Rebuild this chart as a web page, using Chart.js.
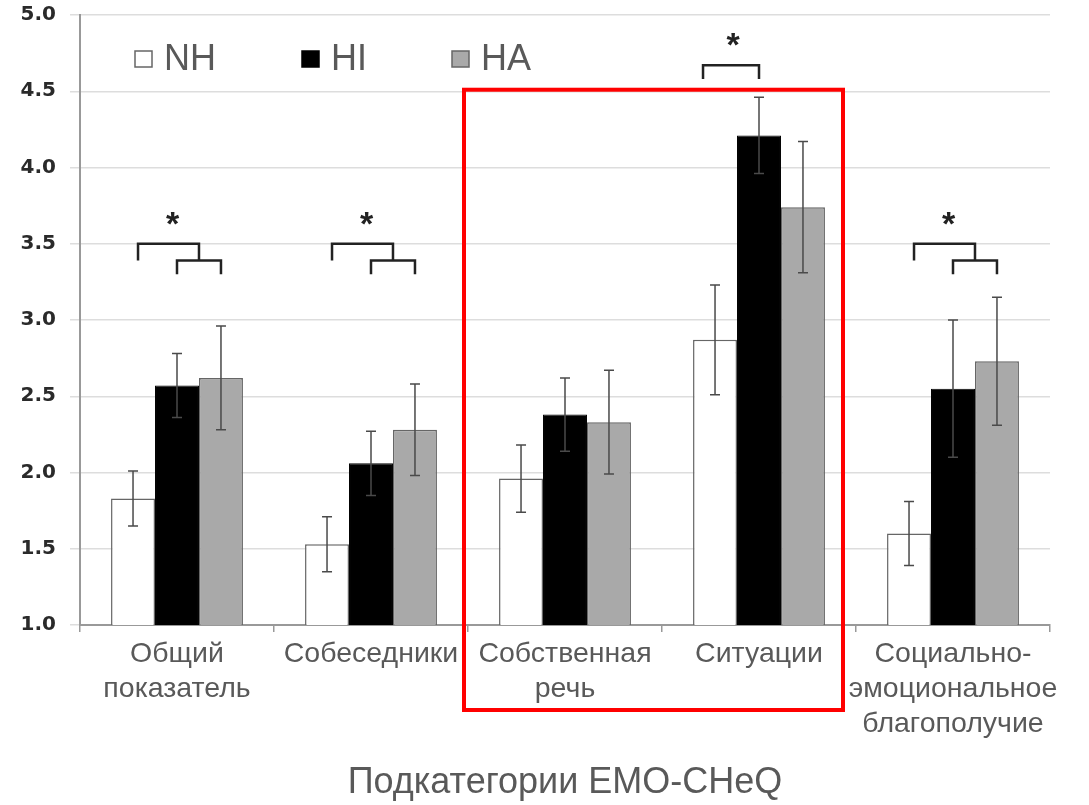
<!DOCTYPE html>
<html>
<head>
<meta charset="utf-8">
<script src="https://cdn.jsdelivr.net/npm/chart.js@4/dist/chart.umd.min.js"></script>
<style>
  body { margin: 0; background: #fff; }
  #wrap { width: 1089px; height: 805px; }
</style>
</head>
<body>
<div id="wrap"><canvas id="myChart" width="1089" height="805"></canvas></div>
<script>
const categories = [
  ['Общий', 'показатель'],
  'Собеседники',
  ['Собственная', 'речь'],
  'Ситуации',
  ['Социально-', 'эмоциональное', 'благополучие']
];
const seriesNames = ['NH', 'HI', 'HA'];
const nhValues = [1.83, 1.53, 1.96, 2.87, 1.60];
const nhErrors = [0.18, 0.18, 0.22, 0.36, 0.21];
const hiValues = [2.57, 2.06, 2.38, 4.21, 2.55];
const hiErrors = [0.21, 0.21, 0.24, 0.25, 0.45];
const haValues = [2.62, 2.28, 2.33, 3.74, 2.73];
const haErrors = [0.34, 0.30, 0.34, 0.43, 0.42];
const yTicks = [1.0, 1.5, 2.0, 2.5, 3.0, 3.5, 4.0, 4.5, 5.0];
const axisTitle = 'Подкатегории EMO-CHeQ';

// significance brackets (category indexes)
const doubleBrackets = [0, 1, 4];
const singleBrackets = [3];

const errorSets = [nhErrors, hiErrors, haErrors];

const errorBars = {
  id: 'errorBars',
  afterDatasetsDraw(chart) {
    const ctx = chart.ctx;
    const y = chart.scales.y;
    ctx.save();
    ctx.strokeStyle = '#4a4a4a';
    ctx.lineWidth = 1.5;
    chart.data.datasets.forEach((ds, i) => {
      const meta = chart.getDatasetMeta(i);
      meta.data.forEach((bar, j) => {
        const v = ds.data[j], e = errorSets[i][j];
        const top = y.getPixelForValue(v + e);
        const bot = y.getPixelForValue(v - e);
        ctx.beginPath();
        ctx.moveTo(bar.x, top); ctx.lineTo(bar.x, bot);
        ctx.moveTo(bar.x - 5, top); ctx.lineTo(bar.x + 5, top);
        ctx.moveTo(bar.x - 5, bot); ctx.lineTo(bar.x + 5, bot);
        ctx.stroke();
      });
    });
    ctx.restore();
  }
};

const extras = {
  id: 'extras',
  afterDraw(chart) {
    const ctx = chart.ctx;
    const x = chart.scales.x, y = chart.scales.y;
    const nh = chart.getDatasetMeta(0).data;
    const hi = chart.getDatasetMeta(1).data;
    const ha = chart.getDatasetMeta(2).data;
    ctx.save();
    ctx.strokeStyle = '#222';
    ctx.lineWidth = 2.5;
    ctx.fillStyle = '#222';
    ctx.font = 'bold 34px "Liberation Sans", Arial, sans-serif';
    ctx.textAlign = 'center';
    ctx.textBaseline = 'alphabetic';

    doubleBrackets.forEach(j => {
      const l = nh[j].x + 5;
      const m = (hi[j].x + ha[j].x) / 2;
      const yTop = y.getPixelForValue(3.5);
      const yMid = y.getPixelForValue(3.39);
      const yLow = y.getPixelForValue(3.3);
      ctx.beginPath();
      ctx.moveTo(l, yMid); ctx.lineTo(l, yTop); ctx.lineTo(m, yTop); ctx.lineTo(m, yMid);
      ctx.moveTo(hi[j].x, yLow); ctx.lineTo(hi[j].x, yMid); ctx.lineTo(ha[j].x, yMid); ctx.lineTo(ha[j].x, yLow);
      ctx.stroke();
      ctx.fillText('*', (l + m) / 2 + 4, yTop - 9);
    });
    singleBrackets.forEach(j => {
      const l = nh[j].x - 12;
      const r = hi[j].x;
      const yTop = y.getPixelForValue(4.67);
      const yLow = y.getPixelForValue(4.58);
      ctx.beginPath();
      ctx.moveTo(l, yLow); ctx.lineTo(l, yTop); ctx.lineTo(r, yTop); ctx.lineTo(r, yLow);
      ctx.stroke();
      ctx.fillText('*', (l + r) / 2 + 2, yTop - 9);
    });

    // legend inside plot
    const legX = [135, 302, 452];
    ctx.font = '36px "Liberation Sans", Arial, sans-serif';
    ctx.textAlign = 'left';
    chart.data.datasets.forEach((ds, i) => {
      ctx.fillStyle = ds.backgroundColor;
      ctx.fillRect(legX[i], 51, 17, 16);
      ctx.strokeStyle = i === 1 ? '#000' : '#666';
      ctx.lineWidth = 1.5;
      ctx.strokeRect(legX[i], 51, 17, 16);
      ctx.fillStyle = '#595959';
      ctx.fillText(ds.label, legX[i] + 29, 70);
    });

    // red highlight box
    const catW = (x.getPixelForValue(1) - x.getPixelForValue(0));
    const left = x.getPixelForValue(2) - catW / 2 - 4;
    const right = x.getPixelForValue(3) + catW / 2 - 13;
    const top = y.getPixelForValue(4.51);
    const bottom = chart.chartArea.bottom + 85;
    ctx.strokeStyle = '#ff0000';
    ctx.lineWidth = 4;
    ctx.strokeRect(left, top, right - left, bottom - top);
    ctx.restore();
  }
};

const data = {
  labels: categories,
  datasets: [
    { label: seriesNames[0], data: nhValues, backgroundColor: '#ffffff', borderColor: '#666', borderWidth: 1.5 },
    { label: seriesNames[1], data: hiValues, backgroundColor: '#000000', borderColor: '#000', borderWidth: 1 },
    { label: seriesNames[2], data: haValues, backgroundColor: '#a9a9a9', borderColor: '#666', borderWidth: 1.5 }
  ]
};

new Chart(document.getElementById('myChart'), {
  type: 'bar',
  data,
  plugins: [errorBars, extras],
  options: {
    responsive: false,
    animation: false,
    layout: { padding: { top: 14, right: 39, left: 0, bottom: 0 } },
    datasets: { bar: { categoryPercentage: 0.68, barPercentage: 1.0 } },
    plugins: { legend: { display: false }, tooltip: { enabled: false } },
    scales: {
      x: {
        grid: { drawOnChartArea: false, color: '#999', tickLength: 7, lineWidth: 1.5 },
        border: { color: '#999', width: 2 },
        ticks: {
          color: '#595959',
          font: { family: '"Liberation Sans", Arial, sans-serif', size: 28.5, lineHeight: 1.22 },
          padding: 5,
          maxRotation: 0,
          autoSkip: false
        },
        title: {
          display: true,
          text: axisTitle,
          color: '#595959',
          font: { family: '"Liberation Sans", Arial, sans-serif', size: 36, lineHeight: 1.2 },
          padding: { top: 0, bottom: 0 }
        },
        afterFit(scale) { scale.height = 180; }
      },
      y: {
        min: 1.0,
        max: 5.0,
        afterBuildTicks(scale) { scale.ticks = yTicks.map(v => ({ value: v })); },
        grid: { color: '#dddddd', lineWidth: 1.5, tickLength: 10 },
        border: { color: '#999', width: 2 },
        ticks: {
          color: '#2a2a2a',
          padding: 14,
          font: { family: '"DejaVu Sans", sans-serif', size: 20, weight: 'bold', lineHeight: 0.1 },
          callback: v => v.toFixed(1)
        },
        afterFit(scale) { scale.width = 80; }
      }
    }
  }
});
</script>
</body>
</html>
